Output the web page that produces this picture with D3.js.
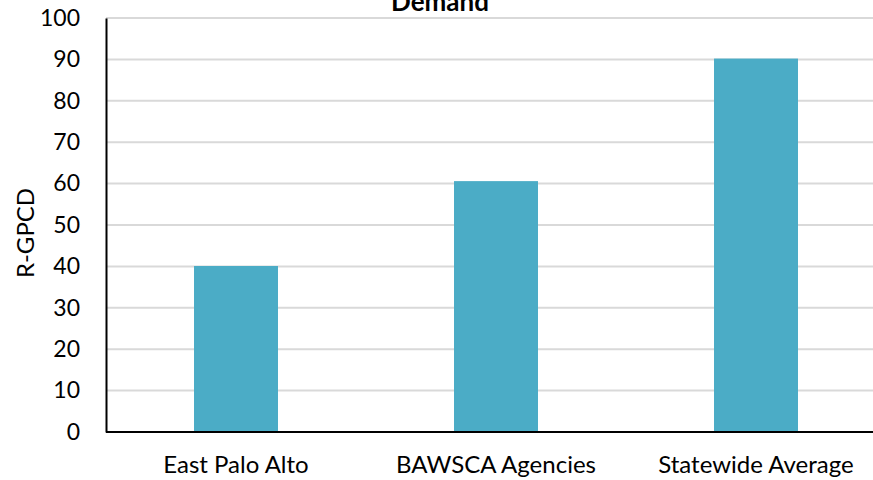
<!DOCTYPE html>
<html>
<head>
<meta charset="utf-8">
<script src="https://cdn.jsdelivr.net/npm/d3@7"></script>
<style>
  body { margin: 0; background: #fff; }
  svg { display: block; font-family: Lato, "Open Sans", sans-serif; }
</style>
</head>
<body>
<script>
const width = 873, height = 480;

const categories = ["East Palo Alto", "BAWSCA Agencies", "Statewide Average"];
const values = [40.1, 60.6, 90.2];
const yTicks = [0, 10, 20, 30, 40, 50, 60, 70, 80, 90, 100];
const title = "Demand";
const yLabel = "R-GPCD";

const plotLeft = 106, plotRight = 886, plotTop = 18, plotBottom = 432;

const svg = d3.select("body")
    .append("svg")
    .attr("width", width)
    .attr("height", height);

const x = d3.scaleBand()
    .domain(categories)
    .range([plotLeft, plotRight])
    .paddingInner(0.677)
    .paddingOuter(0.3385);

const y = d3.scaleLinear()
    .domain([0, 100])
    .range([plotBottom, plotTop]);

// gridlines
svg.append("g")
    .selectAll("line")
    .data(yTicks.filter(d => d > 0))
    .join("line")
    .attr("x1", plotLeft)
    .attr("x2", width)
    .attr("y1", d => y(d))
    .attr("y2", d => y(d))
    .attr("stroke", "#d9d9d9")
    .attr("stroke-width", 2);

// bars
svg.append("g")
    .selectAll("rect")
    .data(values)
    .join("rect")
    .attr("x", (d, i) => x(categories[i]))
    .attr("y", d => y(d))
    .attr("width", x.bandwidth())
    .attr("height", d => plotBottom - y(d))
    .attr("fill", "#4bacc6");

// y axis
const yAxis = svg.append("g")
    .attr("transform", `translate(${plotLeft},0)`)
    .call(d3.axisLeft(y).tickValues(yTicks).tickSize(0).tickPadding(26));
yAxis.select(".domain").attr("stroke", "#000").attr("stroke-width", 2);
yAxis.selectAll("text")
    .attr("font-size", 23)
    .attr("font-family", "Lato, sans-serif")
    .attr("fill", "#000");

// x axis
const xAxis = svg.append("g")
    .attr("transform", `translate(0,${plotBottom})`)
    .call(d3.axisBottom(x).tickSize(0));
xAxis.select(".domain")
    .attr("d", `M${plotLeft},0H${width}`)
    .attr("stroke", "#000")
    .attr("stroke-width", 2);
xAxis.selectAll("text")
    .attr("dy", null)
    .attr("y", 41)
    .attr("font-size", 24)
    .attr("font-family", "Lato, sans-serif")
    .attr("fill", "#000");

// title (partly cut off at the top, as in the source)
svg.append("text")
    .attr("x", 440)
    .attr("y", 11)
    .attr("text-anchor", "middle")
    .attr("font-size", 26)
    .attr("font-weight", "bold")
    .text(title);

// y label
svg.append("text")
    .attr("transform", "translate(34,233) rotate(-90)")
    .attr("text-anchor", "middle")
    .attr("font-size", 24)
    .text(yLabel);
</script>
</body>
</html>
